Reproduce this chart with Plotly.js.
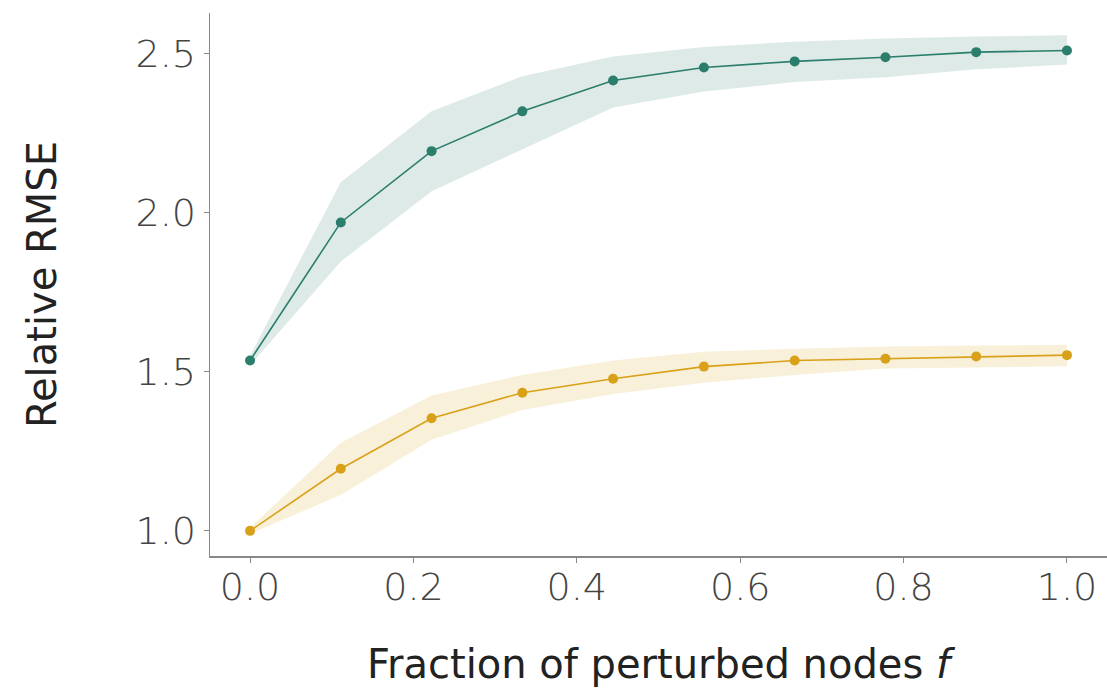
<!DOCTYPE html>
<html>
<head>
<meta charset="utf-8">
<script src="https://cdn.plot.ly/plotly-3.0.1.min.js"></script>
<style>html,body{margin:0;padding:0;background:#fff;}#chart{width:1107px;height:693px;}</style>
</head>
<body>
<div id="chart"></div>
<script>
const fraction = [0, 1/9, 2/9, 3/9, 4/9, 5/9, 6/9, 7/9, 8/9, 1];
const tealMean  = [1.535, 1.969, 2.193, 2.318, 2.415, 2.456, 2.475, 2.488, 2.504, 2.509];
const tealUpper = [1.550, 2.095, 2.318, 2.428, 2.490, 2.520, 2.537, 2.547, 2.553, 2.557];
const tealLower = [1.520, 1.846, 2.067, 2.198, 2.330, 2.380, 2.410, 2.425, 2.450, 2.465];
const goldMean  = [1.000, 1.195, 1.354, 1.434, 1.478, 1.516, 1.535, 1.541, 1.548, 1.552];
const goldUpper = [1.010, 1.277, 1.425, 1.490, 1.535, 1.563, 1.572, 1.579, 1.582, 1.585];
const goldLower = [0.990, 1.113, 1.286, 1.380, 1.430, 1.465, 1.490, 1.510, 1.513, 1.517];
const xTicks = [0, 0.2, 0.4, 0.6, 0.8, 1.0];
const xTickText = ["0.0", "0.2", "0.4", "0.6", "0.8", "1.0"];
const yTicks = [1.0, 1.5, 2.0, 2.5];
const yTickText = ["1.0", "1.5", "2.0", "2.5"];

const teal = "#2b7d6c";
const gold = "#d9a11a";

function band(lower, upper, fillColor) {
  return [
    {x: fraction, y: lower, mode: "lines", line: {width: 0, color: fillColor}, hoverinfo: "skip", showlegend: false},
    {x: fraction, y: upper, mode: "lines", line: {width: 0, color: fillColor}, fill: "tonexty", fillcolor: fillColor, hoverinfo: "skip", showlegend: false}
  ];
}

const data = [
  ...band(tealLower, tealUpper, "rgba(43,125,108,0.16)"),
  ...band(goldLower, goldUpper, "rgba(217,161,26,0.16)"),
  {x: fraction, y: tealMean, mode: "lines+markers", line: {color: teal, width: 1.6}, marker: {color: teal, size: 10}, showlegend: false},
  {x: fraction, y: goldMean, mode: "lines+markers", line: {color: gold, width: 1.6}, marker: {color: gold, size: 10}, showlegend: false}
];

const tickFont = {family: "DejaVu Sans", size: 38, color: "#444", weight: 200};
const titleFont = {family: "DejaVu Sans", size: 40, color: "#222"};

const layout = {
  width: 1107, height: 693,
  margin: {l: 210, r: 0, t: 13, b: 137},
  paper_bgcolor: "#fff", plot_bgcolor: "#fff",
  showlegend: false,
  xaxis: {
    range: [-0.049, 1.049],
    tickvals: xTicks, ticktext: xTickText,
    showgrid: false, zeroline: false,
    showline: true, linecolor: "#888", linewidth: 1.5,
    ticks: "outside", ticklen: 5, tickcolor: "#888", tickwidth: 1,
    ticklabelstandoff: -8,
    tickfont: tickFont,
    title: {text: "Fraction of perturbed nodes <i>f</i>", font: titleFont, standoff: 42},
    automargin: false
  },
  yaxis: {
    range: [0.921, 2.627],
    tickvals: yTicks, ticktext: yTickText,
    showgrid: false, zeroline: false,
    showline: true, linecolor: "#888", linewidth: 1.5,
    ticks: "outside", ticklen: 5, tickcolor: "#888", tickwidth: 1,
    tickfont: tickFont,
    title: {text: "Relative RMSE", font: titleFont, standoff: 66},
    automargin: false
  }
};

Plotly.newPlot("chart", data, layout, {displayModeBar: false, staticPlot: true});
</script>
</body>
</html>
